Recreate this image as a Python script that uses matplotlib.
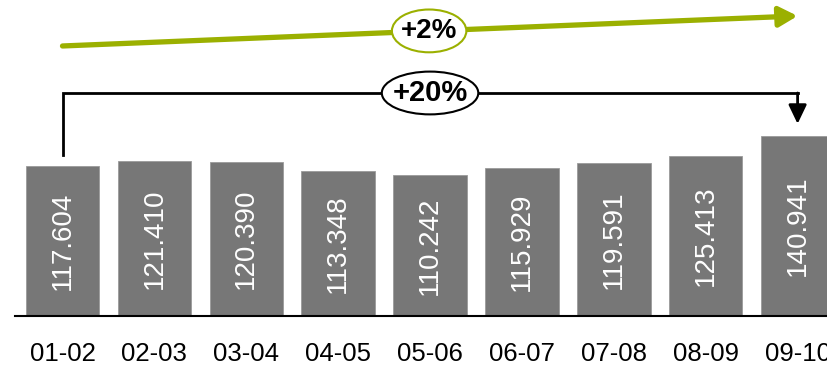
import matplotlib.pyplot as plt
from matplotlib.patches import Ellipse

plt.rcParams['font.family'] = ['Liberation Sans', 'DejaVu Sans']

# data
seasons = ['01-02', '02-03', '03-04', '04-05', '05-06', '06-07', '07-08', '08-09', '09-10']
values = [117.604, 121.410, 120.390, 113.348, 110.242, 115.929, 119.591, 125.413, 140.941]
trend_label = '+2%'
total_label = '+20%'

bar_color = '#777777'
green = '#9bb000'
narrow = ['Liberation Sans Narrow', 'Liberation Sans', 'DejaVu Sans']

fig = plt.figure(figsize=(8.27, 3.67), dpi=100)
ax = fig.add_axes([15 / 827, 51 / 367, 812 / 827, 316 / 367])

x = list(range(len(values)))
ax.bar(x, values, width=0.8, color=bar_color, edgecolor='#9a9a9a', linewidth=0.6, zorder=2)

for xi, v in zip(x, values):
    ax.text(xi, v / 2, f'{v:.3f}', rotation=90, ha='center', va='center',
            color='white', fontsize=20)

ax.set_xlim(-0.517, 8.32)
ax.set_ylim(0, 247.4)
ax.set_xticks(x)
ax.set_xticklabels(seasons, fontsize=18.5)
ax.tick_params(axis='x', length=0, pad=19)
ax.set_yticks([])
for s in ['top', 'left', 'right']:
    ax.spines[s].set_visible(False)
ax.spines['bottom'].set_linewidth(1.5)

# green trend arrow
ax.annotate('', xy=(8.0, 234.9), xytext=(0, 211.4),
            arrowprops=dict(arrowstyle='-|>,head_length=1.1,head_width=0.6',
                            color=green, lw=3.8, shrinkA=0, shrinkB=0),
            annotation_clip=False)
ax.add_patch(Ellipse((3.99, 223.2), 0.81, 33.5, facecolor='white',
                     edgecolor=green, lw=1.5, zorder=5))
ax.text(3.99, 223.2, trend_label, ha='center', va='center', fontsize=20,
        fontweight='bold', family=narrow, zorder=6)

# black bracket
yb = 174.6
ax.plot([0, 0, 8], [values[0] + 8.5, yb, yb], color='black', lw=2, zorder=3,
        solid_joinstyle='miter')
ax.annotate('', xy=(8, values[-1] + 9.5), xytext=(8, yb),
            arrowprops=dict(arrowstyle='-|>,head_length=1.15,head_width=0.55',
                            color='black', lw=2, shrinkA=0, shrinkB=0))
ax.add_patch(Ellipse((4.0, yb), 1.05, 33.5, facecolor='white',
                     edgecolor='black', lw=1.5, zorder=5))
ax.text(4.0, yb, total_label, ha='center', va='center', fontsize=21,
        fontweight='bold', family=narrow, zorder=6)

fig.savefig('out.png', dpi=100)
